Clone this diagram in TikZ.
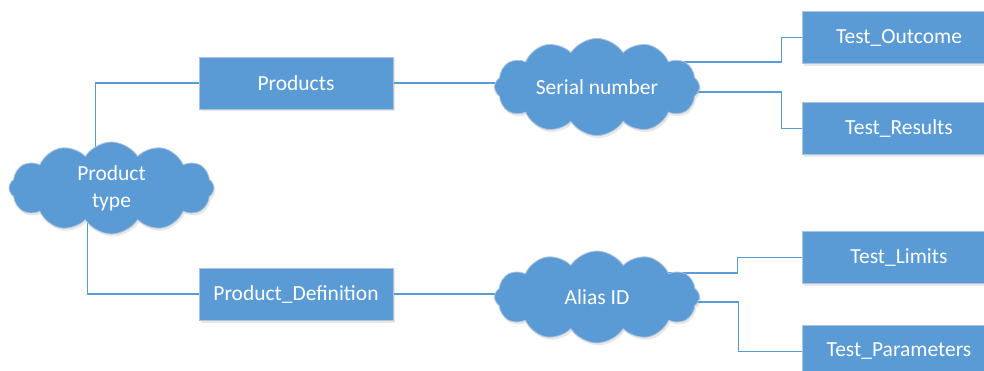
\documentclass[tikz,border=0pt]{standalone}
\usepackage{fontspec}
\setmainfont{Carlito}
\usetikzlibrary{shapes.symbols,shadows,backgrounds}
\definecolor{boxblue}{RGB}{91,155,213}
\definecolor{edgegray}{RGB}{175,195,220}
\tikzset{
  base/.style={fill=boxblue, draw=edgegray, line width=0.8pt, text=white,
    font=\fontsize{21.5}{27}\selectfont, inner sep=0pt,
    drop shadow={opacity=0.18, shadow xshift=1.5pt, shadow yshift=-2.5pt}},
  box/.style={base, rectangle, minimum width=194pt, minimum height=52pt},
  puff/.style={base, cloud, cloud puffs=12, cloud puff arc=115, aspect=2.3,
    minimum width=205pt, minimum height=92pt, align=center},
  conn/.style={draw=boxblue, line width=1.7pt}
}
\begin{document}
\begin{tikzpicture}[x=1pt,y=-1pt]
\useasboundingbox (0,0) rectangle (984,371);
\clip (0,0) rectangle (984,371);
\node[puff] (ptype) at (111.5,188) {Product\\type};
\node[box] (prod) at (296,83) {Products};
\node[box] (pdef) at (296,294) {Product\_Definition};
\node[puff] (serial) at (597,87) {Serial number};
\node[puff] (alias) at (597,297) {Alias ID};
\node[box] (tout) at (899,37.5) {Test\_Outcome};
\node[box] (tres) at (899,128.5) {Test\_Results};
\node[box] (tlim) at (899,257.5) {Test\_Limits};
\node[box] (tpar) at (899,351.5) {Test\_Parameters};
\begin{pgfonlayer}{background}
\draw[conn] (prod.west) -| ([xshift=-16pt]ptype.center);
\draw[conn] (pdef.west) -| ([xshift=-24pt]ptype.center);
\draw[conn] (prod.east) -- (prod.east -| serial.center);
\draw[conn] (pdef.east) -- (pdef.east -| alias.center);
\draw[conn] ([yshift=25pt]serial.center) -| ([xshift=-20pt]tout.west) -- (tout.west);
\draw[conn] ([yshift=-5pt]serial.center) -| ([xshift=-20pt]tres.west) -- (tres.west);
\draw[conn] ([yshift=24pt]alias.center) -| ([xshift=-64pt]tlim.west) -- (tlim.west);
\draw[conn] ([yshift=-5pt]alias.center) -| ([xshift=-63pt]tpar.west) -- (tpar.west);
\end{pgfonlayer}
\end{tikzpicture}
\end{document}
